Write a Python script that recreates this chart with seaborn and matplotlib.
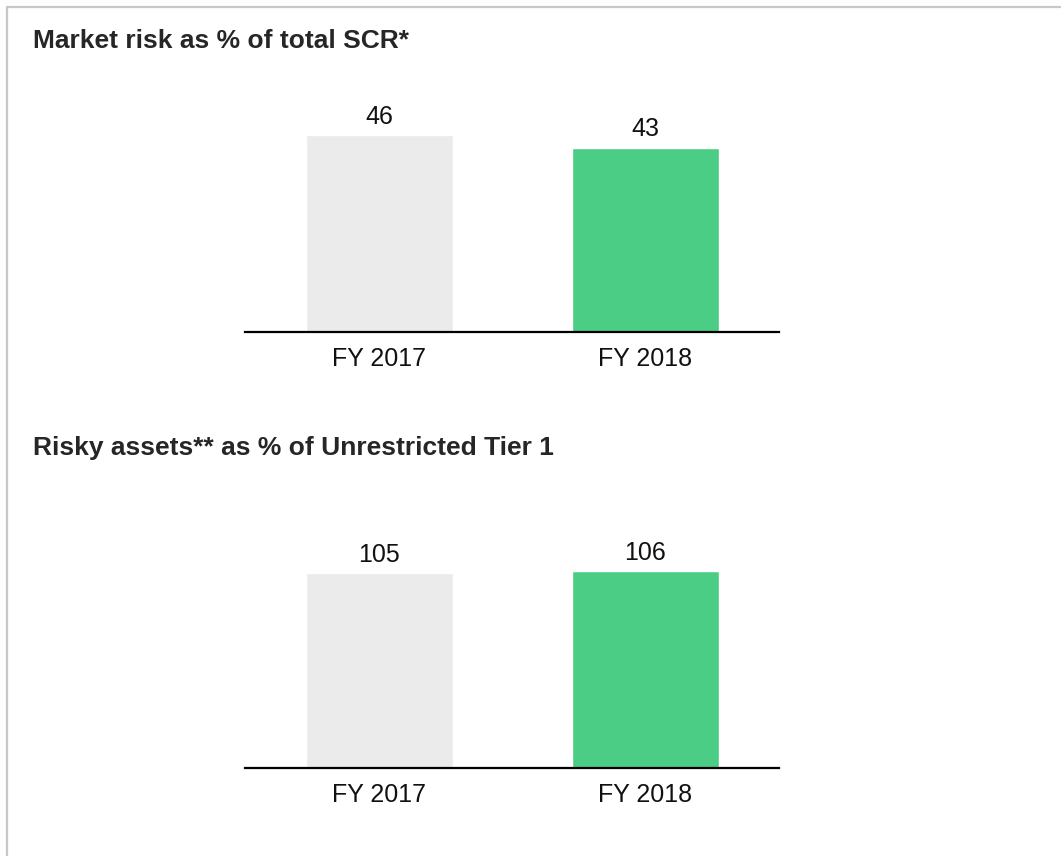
import matplotlib
matplotlib.use("Agg")
import matplotlib.pyplot as plt
from matplotlib.lines import Line2D
import pandas as pd
import seaborn as sns

# Datos
YEARS = ["FY 2017", "FY 2018"]
MARKET_RISK = [46, 43]      # % del SCR total
RISKY_ASSETS = [105, 106]   # % del Unrestricted Tier 1
COLORS = ["#EBEBEB", "#4BCD85"]

TITLES = ["Market risk as % of total SCR*",
          "Risky assets** as % of Unrestricted Tier 1"]

sns.set_theme(style="white")
plt.rcParams["font.family"] = ["Liberation Sans", "DejaVu Sans"]

W, H = 1061, 856
fig = plt.figure(figsize=(W / 100, H / 100), dpi=100)


def px_axes(left, bottom, right, top):
    """Crea ejes a partir de coordenadas en píxeles (origen arriba a la izquierda)."""
    return fig.add_axes([left / W, 1 - bottom / H, (right - left) / W, (bottom - top) / H])


def bar_panel(ax, values, ymax):
    df = pd.DataFrame({"year": YEARS, "value": values})
    sns.barplot(data=df, x="year", y="value", hue="year", palette=COLORS,
                legend=False, width=0.553, ax=ax, saturation=1)
    ax.set_xlim(-0.505, 1.502)
    ax.set_ylim(0, ymax)
    for p, v in zip(ax.patches, values):
        ax.annotate(f"{v}", (p.get_x() + p.get_width() / 2, p.get_height()),
                    xytext=(0, 8), textcoords="offset points",
                    ha="center", va="baseline", fontsize=18, color="#111111")
    sns.despine(ax=ax, left=True)
    ax.spines["bottom"].set_color("black")
    ax.spines["bottom"].set_linewidth(1.6)
    ax.set_yticks([])
    ax.set_xlabel("")
    ax.set_ylabel("")
    ax.tick_params(axis="x", length=0, pad=11, labelsize=18, colors="#111111")
    ax.patch.set_alpha(0)


ax1 = px_axes(245, 332, 779, 332 - 50 * 4.29)
bar_panel(ax1, MARKET_RISK, 50)

ax2 = px_axes(245, 768, 779, 768 - 120 * 1.857)
bar_panel(ax2, RISKY_ASSETS, 120)

fig.text(33 / W, 1 - 48 / H, TITLES[0], fontsize=19, fontweight="bold",
         color="#262626", ha="left", va="baseline")
fig.text(33 / W, 1 - 455 / H, TITLES[1], fontsize=19, fontweight="bold",
         color="#262626", ha="left", va="baseline")

# Marco gris (solo arriba e izquierda)
fig.add_artist(Line2D([7 / W, 1], [1 - 7 / H, 1 - 7 / H], color="#C8C8C8", lw=1.6,
                      transform=fig.transFigure))
fig.add_artist(Line2D([7 / W, 7 / W], [0, 1 - 7 / H], color="#C8C8C8", lw=1.6,
                      transform=fig.transFigure))

fig.savefig("out.png", dpi=100)
